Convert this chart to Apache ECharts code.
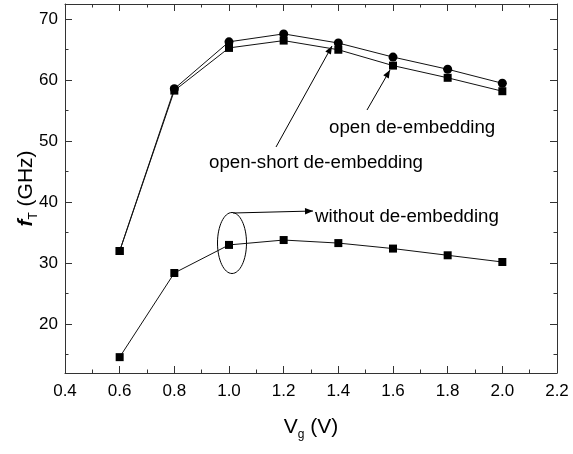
<!DOCTYPE html>
<html>
<head>
<meta charset="utf-8">
<script src="https://cdn.jsdelivr.net/npm/echarts@6/dist/echarts.min.js"></script>
<style>
  html, body { margin: 0; padding: 0; background: #fff; }
  #chart { width: 573px; height: 454px; }
</style>
</head>
<body>
<div id="chart"></div>
<script>
// gate voltage (V)
const vg = [0.6, 0.8, 1.0, 1.2, 1.4, 1.6, 1.8, 2.0];
// fT (GHz)
const openShort = [32.0, 58.6, 66.3, 67.6, 66.1, 63.8, 61.8, 59.5];
const openDe = [32.0, 58.3, 65.3, 66.5, 65.0, 62.4, 60.4, 58.2];
const withoutDe = [14.6, 28.4, 33.0, 33.8, 33.3, 32.4, 31.3, 30.2];
// y tick values
const yMajor = [20, 30, 40, 50, 60, 70];
const yMinor = [15, 25, 35, 45, 55, 65];

const FONT = 'Liberation Sans, Arial, sans-serif';
const AXIS = '#333';

function pairs(ys) {
  return vg.map((x, i) => [x, ys[i]]);
}

function arrowHead(x1, y1, x2, y2) {
  // small filled triangle at (x2,y2)
  const a = Math.atan2(y2 - y1, x2 - x1);
  const len = 8, w = 3.2;
  const bx = x2 - len * Math.cos(a), by = y2 - len * Math.sin(a);
  const px = -Math.sin(a) * w, py = Math.cos(a) * w;
  return {
    type: 'polygon',
    shape: { points: [[x2, y2], [bx + px, by + py], [bx - px, by - py]] },
    style: { fill: '#000' }
  };
}

function arrow(x1, y1, x2, y2) {
  return [
    { type: 'line', shape: { x1: x1, y1: y1, x2: x2, y2: y2 }, style: { stroke: '#000', lineWidth: 1 } },
    arrowHead(x1, y1, x2, y2)
  ];
}

function label(text, x, y) {
  return {
    type: 'text', x: x, y: y,
    style: { text: text, font: '18.7px ' + FONT, fill: '#000', textVerticalAlign: 'middle' }
  };
}

let chart = echarts.init(document.getElementById('chart'));

const xBase = {
  type: 'value', min: 0.4, max: 2.2, interval: 0.2,
  splitLine: { show: false },
  axisLine: { show: true, onZero: false, lineStyle: { color: AXIS, width: 1 } },
  axisTick: { show: true, inside: true, length: 7, lineStyle: { color: AXIS } },
  minorTick: { show: true, splitNumber: 2, length: 3.5, lineStyle: { color: AXIS } }
};

const yBase = {
  type: 'value', min: 12, max: 72.5,
  splitLine: { show: false },
  axisLine: { show: true, onZero: false, lineStyle: { color: AXIS, width: 1 } },
  axisLabel: { show: false }
};

chart.setOption({
  animation: false,
  backgroundColor: '#fff',
  grid: { left: 65, right: 16, top: 4, bottom: 81, containLabel: false, outerBoundsMode: 'none' },
  xAxis: [
    Object.assign({}, xBase, {
      position: 'bottom',
      axisLabel: {
        color: '#000', fontSize: 17, fontFamily: FONT, margin: 10,
        formatter: v => v.toFixed(1)
      },
      name: '{a|V}{s|g}{a| (V)}',
      nameLocation: 'middle', nameGap: 40, nameMoveOverlap: false,
      nameTextStyle: {
        rich: {
          a: { fontSize: 21, fontFamily: FONT, color: '#000' },
          s: { fontSize: 12, fontFamily: FONT, color: '#000', padding: [16, 0, 0, 0] }
        }
      }
    }),
    Object.assign({}, xBase, { position: 'top', axisLabel: { show: false } })
  ],
  yAxis: [
    Object.assign({}, yBase, {
      position: 'left',
      axisTick: { show: true, inside: true, length: 7, customValues: yMajor, lineStyle: { color: AXIS } },
      axisLabel: { show: true, customValues: yMajor, color: '#000', fontSize: 17, fontFamily: FONT, margin: 7 },
      name: '{i|f}{s|T}{a| (GHz)}',
      nameLocation: 'middle', nameRotate: 90, nameGap: 25, nameMoveOverlap: false,
      nameTextStyle: {
        rich: {
          i: { fontSize: 21, fontFamily: FONT, fontStyle: 'italic', fontWeight: 'bold', color: '#000' },
          s: { fontSize: 12, fontFamily: FONT, color: '#000', padding: [16, 0, 0, 0] },
          a: { fontSize: 21, fontFamily: FONT, color: '#000' }
        }
      }
    }),
    Object.assign({}, yBase, {
      position: 'right',
      axisTick: { show: true, inside: true, length: 7, customValues: yMajor, lineStyle: { color: AXIS } }
    }),
    Object.assign({}, yBase, {
      position: 'left', axisLine: { show: false },
      axisTick: { show: true, inside: true, length: 3.5, customValues: yMinor, lineStyle: { color: AXIS } }
    }),
    Object.assign({}, yBase, {
      position: 'right', axisLine: { show: false },
      axisTick: { show: true, inside: true, length: 3.5, customValues: yMinor, lineStyle: { color: AXIS } }
    })
  ],
  series: [
    {
      name: 'open-short de-embedding', type: 'line', data: pairs(openShort),
      // first point sits under the open de-embedding square
      symbol: (v, p) => (p.dataIndex === 0 ? 'rect' : 'circle'),
      symbolSize: (v, p) => (p.dataIndex === 0 ? 8 : 9),
      itemStyle: { color: '#000' }, lineStyle: { color: '#111', width: 1 }
    },
    {
      name: 'open de-embedding', type: 'line', data: pairs(openDe),
      symbol: 'rect', symbolSize: 8,
      itemStyle: { color: '#000' }, lineStyle: { color: '#111', width: 1 }
    },
    {
      name: 'without de-embedding', type: 'line', data: pairs(withoutDe),
      symbol: 'rect', symbolSize: 8,
      itemStyle: { color: '#000' }, lineStyle: { color: '#111', width: 1 }
    }
  ],
  graphic: [
    label('open de-embedding', 329, 128),
    label('open-short de-embedding', 209, 163),
    label('without de-embedding', 315, 217),
    { type: 'ellipse', shape: { cx: 232, cy: 243, rx: 14.5, ry: 30.5 }, style: { fill: 'none', stroke: '#000', lineWidth: 1 } }
  ].concat(arrow(276, 147, 332, 46), arrow(367, 110, 390, 70), arrow(233, 213, 313, 211))
});
</script>
</body>
</html>
